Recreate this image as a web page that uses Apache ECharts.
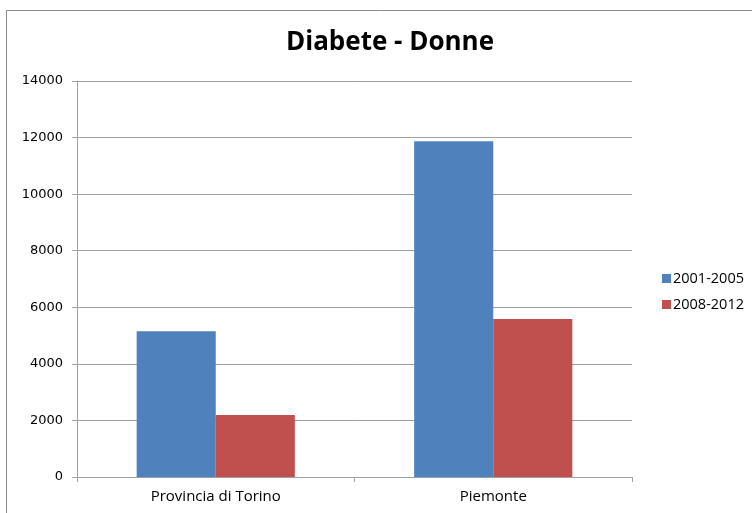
<!DOCTYPE html>
<html>
<head>
<meta charset="utf-8">
<script src="https://cdn.jsdelivr.net/npm/echarts@6/dist/echarts.min.js"></script>
<style>
  html, body { margin: 0; padding: 0; background: #fff; }
  #chart { width: 752px; height: 513px; }
</style>
</head>
<body>
<div id="chart"></div>
<script>
// categorie e valori
const categories = ['Provincia di Torino', 'Piemonte']
const seriesNames = ['2001-2005', '2008-2012']
const values2001 = [5150, 11870]
const values2008 = [2190, 5590]
const colors = ['#4f81bd', '#c0504d']

const chart = echarts.init(document.getElementById('chart'))

const option = {
  backgroundColor: '#ffffff',
  animation: false,
  title: {
    text: 'Diabete - Donne',
    left: 385,
    top: 25,
    textAlign: 'center',
    textStyle: {
      fontFamily: 'Open Sans',
      fontSize: 26,
      fontWeight: 'bold',
      color: '#000'
    }
  },
  // cornice esterna
  graphic: [
    {
      type: 'polyline',
      shape: { points: [[6.5, 513], [6.5, 10.5], [752, 10.5]] },
      style: { stroke: '#8c8c8c', lineWidth: 1, fill: null }
    }
  ],
  legend: {
    orient: 'vertical',
    left: 657,
    top: 266,
    itemWidth: 9,
    itemHeight: 9,
    itemGap: 11,
    icon: 'rect',
    data: seriesNames,
    textStyle: {
      fontFamily: 'Open Sans',
      fontSize: 14.5,
      color: '#000',
      padding: [0, 0, 0, -3]
    }
  },
  grid: {
    left: 77,
    right: 120,
    top: 81,
    bottom: 36,
    containLabel: false
  },
  xAxis: {
    type: 'category',
    data: categories,
    axisLine: { lineStyle: { color: '#a0a0a0', width: 1 } },
    axisTick: { show: true, alignWithLabel: false, length: 5, lineStyle: { color: '#a0a0a0' } },
    axisLabel: {
      fontFamily: 'Open Sans',
      fontSize: 15,
      color: '#000',
      margin: 12
    }
  },
  yAxis: {
    type: 'value',
    min: 0,
    max: 14000,
    interval: 2000,
    axisLine: { show: true, lineStyle: { color: '#a0a0a0', width: 1 } },
    axisTick: { show: true, length: 5, lineStyle: { color: '#a0a0a0' } },
    axisLabel: {
      fontFamily: 'DejaVu Sans',
      fontSize: 13,
      color: '#000',
      margin: 14,
      formatter: function (value) {
        return String(value)
      }
    },
    splitLine: { lineStyle: { color: '#a0a0a0', width: 1 } }
  },
  series: [
    {
      name: seriesNames[0],
      type: 'bar',
      data: values2001,
      barGap: '0%',
      barCategoryGap: '43%',
      itemStyle: { color: colors[0] }
    },
    {
      name: seriesNames[1],
      type: 'bar',
      data: values2008,
      barGap: '0%',
      barCategoryGap: '43%',
      itemStyle: { color: colors[1] }
    }
  ]
}

chart.setOption(option)
</script>
</body>
</html>
